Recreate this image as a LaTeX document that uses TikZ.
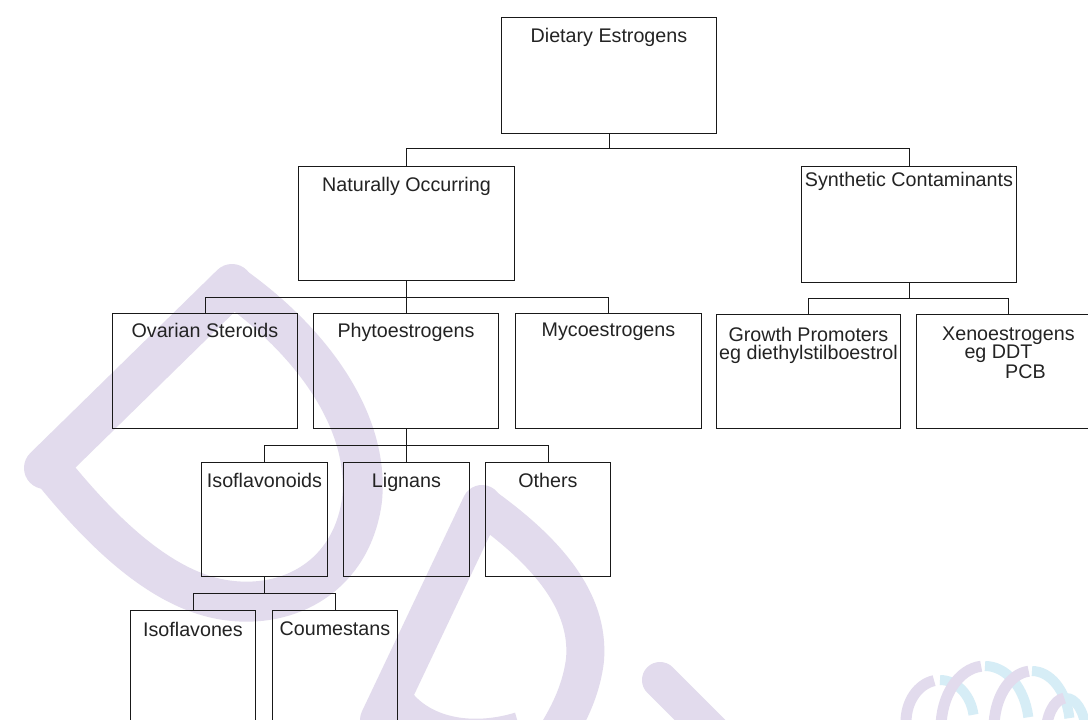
\documentclass[tikz,border=0pt]{standalone}
\usepackage{fontspec}
\setmainfont{Liberation Sans}
\usetikzlibrary{calc}
\definecolor{wmlav}{RGB}{226,219,237}
\definecolor{wmblue}{RGB}{214,237,246}
\definecolor{inkc}{RGB}{25,25,25}
\definecolor{txtc}{RGB}{35,35,35}
\tikzset{
  bx/.style={draw=inkc, line width=0.9pt, rectangle, inner sep=0pt, anchor=north west},
  lb/.style={anchor=north, inner sep=0pt, font=\fontsize{19.7}{18}\selectfont, text=txtc, align=center},
  wire/.style={draw=inkc, line width=0.9pt},
  wmband/.style={draw=wmlav, line join=round},
  ringl/.style={draw=wmlav, line width=11pt},
  ringb/.style={draw=wmblue, line width=10pt}
}
\begin{document}
\begin{tikzpicture}[x=1pt,y=-1pt]
\useasboundingbox (0,0) rectangle (1088,720);
\fill[white] (0,0) rectangle (1088,720);
% watermark
\begin{scope}
\clip (0,0) rectangle (1088,720);
\draw[wmband, line width=42pt, line cap=round] (232,285) -- (45,468);
\draw[wmband, line width=40pt] (232,285) .. controls (310,340) and (370,420) .. (362,500)
   .. controls (352,575) and (290,610) .. (225,600) .. controls (160,590) and (100,530) .. (50,468);
\draw[wmband, line width=40pt, line cap=round] (482,505) -- (380,720);
\draw[wmband, line width=38pt] (482,505) .. controls (545,550) and (590,600) .. (585,660)
   .. controls (580,700) and (560,730) .. (540,760);
\draw[wmband, line width=36pt] (395,700) .. controls (420,735) and (470,745) .. (520,730);
\draw[wmband, line width=36pt, line cap=round] (660,680) -- (720,740);
% logo rings
\draw[ringb] (940,680) arc[start angle=90,end angle=10,x radius=34pt,y radius=42pt];
\draw[ringl] (906,722) arc[start angle=180,end angle=100,x radius=34pt,y radius=42pt];
\draw[ringb] (985,666) arc[start angle=90,end angle=10,x radius=44pt,y radius=62pt];
\draw[ringl] (941,728) arc[start angle=180,end angle=95,x radius=44pt,y radius=62pt];
\draw[ringb] (1032,671) arc[start angle=90,end angle=10,x radius=38pt,y radius=57pt];
\draw[ringl] (994,728) arc[start angle=180,end angle=95,x radius=38pt,y radius=57pt];
\draw[ringb] (1066,698) arc[start angle=90,end angle=10,x radius=20pt,y radius=37pt];
\draw[ringl] (1046,735) arc[start angle=180,end angle=95,x radius=20pt,y radius=37pt];
\end{scope}
% boxes
\node[bx, minimum width=215pt, minimum height=116pt, label={[lb, yshift=-11pt]north:Dietary Estrogens}] (de) at (501,17) {};
\node[bx, minimum width=216pt, minimum height=114pt, label={[lb, yshift=-11pt]north:Naturally Occurring}] (nat) at (298,166) {};
\node[bx, minimum width=215pt, minimum height=116pt, label={[lb, yshift=-6pt]north:Synthetic Contaminants}] (syn) at (801,166) {};
\node[bx, minimum width=185pt, minimum height=115pt, label={[lb, yshift=-10pt]north:Ovarian Steroids}] (ova) at (112,313) {};
\node[bx, minimum width=185pt, minimum height=115pt, label={[lb, yshift=-10pt]north:Phytoestrogens}] (phy) at (313,313) {};
\node[bx, minimum width=186pt, minimum height=115pt, label={[lb, yshift=-10pt]north:Mycoestrogens}] (myc) at (515,313) {};
\node[bx, minimum width=184pt, minimum height=114pt, label={[lb, yshift=-13pt]north:Growth Promoters\\eg diethylstilboestrol}] (gro) at (716,314) {};
\node[bx, minimum width=184pt, minimum height=114pt, label={[lb, yshift=-13pt]north:Xenoestrogens\\\hspace*{-20pt}eg DDT\\[2pt]\hspace*{34pt}PCB}] (xen) at (916,314) {};
\node[bx, minimum width=126pt, minimum height=114pt, label={[lb, yshift=-11pt]north:Isoflavonoids}] (isd) at (201,462) {};
\node[bx, minimum width=126pt, minimum height=114pt, label={[lb, yshift=-11pt]north:Lignans}] (lig) at (343,462) {};
\node[bx, minimum width=125pt, minimum height=114pt, label={[lb, yshift=-11pt]north:Others}] (oth) at (485,462) {};
\node[bx, minimum width=125pt, minimum height=125pt, label={[lb, yshift=-12pt]north:Isoflavones}] (isf) at (130,610) {};
\node[bx, minimum width=125pt, minimum height=125pt, label={[lb, yshift=-12pt]north:Coumestans}] (cou) at (272,610) {};
% connectors
\coordinate (j1) at ($(de.south)+(0,15)$);
\draw[wire] (de.south) -- (j1);
\draw[wire] (nat.north) |- (j1) -| (syn.north);
\coordinate (j2) at ($(nat.south)+(0,17)$);
\draw[wire] (nat.south) -- (j2);
\draw[wire] (ova.north) |- (j2) -| (myc.north);
\draw[wire] (j2) -| (phy.north);
\coordinate (j3) at ($(syn.south)+(0,16)$);
\draw[wire] (syn.south) -- (j3);
\draw[wire] (gro.north) |- (j3) -| (xen.north);
\coordinate (j4) at ($(phy.south)+(0,17)$);
\draw[wire] (phy.south) -- (j4);
\draw[wire] (isd.north) |- (j4) -| (oth.north);
\draw[wire] (j4) -| (lig.north);
\coordinate (j5) at ($(isd.south)+(0,17)$);
\draw[wire] (isd.south) -- (j5);
\draw[wire] (isf.north) |- (j5) -| (cou.north);
\end{tikzpicture}
\end{document}
